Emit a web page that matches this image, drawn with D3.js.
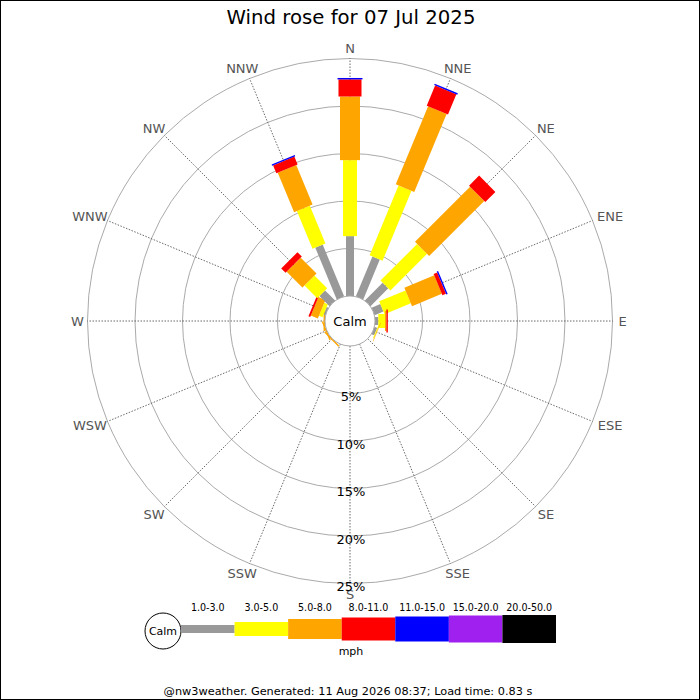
<!DOCTYPE html>
<html>
<head>
<meta charset="utf-8">
<script src="https://cdn.jsdelivr.net/npm/d3@7"></script>
<style>
  body { margin: 0; background: #fff; }
  svg { display: block; font-family: 'DejaVu Sans', sans-serif; }
  .legendLabel { font-family: 'DejaVu Sans Condensed', 'DejaVu Sans', sans-serif; font-stretch: condensed; }
</style>
</head>
<body>
<div id="wind-rose-chart"></div>
<script>
const directions = ['N', 'NNE', 'NE', 'ENE', 'E', 'ESE', 'SE', 'SSE',
  'S', 'SSW', 'SW', 'WSW', 'W', 'WNW', 'NW', 'NNW'];
const speedBands = ['1.0-3.0', '3.0-5.0', '5.0-8.0', '8.0-11.0', '11.0-15.0', '15.0-20.0', '20.0-50.0'];

// % of time per direction, one array per speed band
const speed1to3 = [6.3, 4.55, 2.65, 1.0, 0.35, 0.3, 0, 0, 0, 0, 0, 0, 0, 0.2, 1.5, 5.9];
const speed3to5 = [8.0, 7.95, 5.45, 3.0, 0.7, 0.1, 0, 0, 0, 0, 0, 0, 0, 0.4, 1.9, 4.3];
const speed5to8 = [6.7, 8.9, 8.2, 3.4, 0.15, 0.05, 0, 0, 0, 0, 0.15, 0.15, 0.15, 0.8, 2.35, 4.5];
const speed8to11 = [1.8, 2.3, 1.5, 0.4, 0.15, 0, 0, 0, 0, 0, 0, 0, 0, 0.2, 0.65, 0.9];
const speed11to15 = [0.15, 0.15, 0, 0.15, 0, 0, 0, 0, 0, 0, 0, 0, 0, 0, 0, 0.15];
const speed15to20 = [0, 0, 0, 0, 0, 0, 0, 0, 0, 0, 0, 0, 0, 0, 0, 0];
const speed20to50 = [0, 0, 0, 0, 0, 0, 0, 0, 0, 0, 0, 0, 0, 0, 0, 0];
const percentTicks = [5, 10, 15, 20, 25];

const bandSeries = [speed1to3, speed3to5, speed5to8, speed8to11, speed11to15, speed15to20, speed20to50];
const bandColors = ['#999999', '#ffff00', '#ffa500', '#ff0000', '#0000ff', '#a020f0', '#000000'];
const bandWidths = [8, 14, 20, 23, 25, 27, 28];

const width = 700;
const height = 700;
const cx = 350;
const cy = 321;
const calmRadius = 25;
const outerRadius = 262.5;

const svg = d3.select('#wind-rose-chart').append('svg')
  .attr('width', width)
  .attr('height', height);

svg.append('rect')
  .attr('x', 0.5).attr('y', 0.5)
  .attr('width', width - 1).attr('height', height - 1)
  .style('fill', '#fff')
  .style('stroke', '#000');

svg.append('text')
  .attr('x', 351)
  .attr('y', 24)
  .style('text-anchor', 'middle')
  .style('font-size', '19.7px')
  .text('Wind rose for 07 Jul 2025');

const rScale = d3.scaleLinear()
  .domain([0, 25])
  .range([calmRadius, outerRadius]);

const angleScale = d3.scaleLinear()
  .domain([0, directions.length])
  .range([0, 360]);

const rose = svg.append('g')
  .attr('transform', `translate(${cx},${cy})`);

// grid circles
rose.selectAll('.gridCircle')
  .data(percentTicks)
  .enter()
  .append('circle')
  .attr('class', 'gridCircle')
  .attr('r', (d) => rScale(d))
  .style('fill', 'none')
  .style('stroke', '#aaa')
  .style('stroke-width', 1);

// direction axes
const rad = (i) => angleScale(i) * Math.PI / 180;

rose.selectAll('.dirAxis')
  .data(directions)
  .enter()
  .append('line')
  .attr('class', 'dirAxis')
  .attr('x1', (d, i) => Math.sin(rad(i)) * calmRadius)
  .attr('y1', (d, i) => -Math.cos(rad(i)) * calmRadius)
  .attr('x2', (d, i) => Math.sin(rad(i)) * outerRadius)
  .attr('y2', (d, i) => -Math.cos(rad(i)) * outerRadius)
  .style('stroke', '#444')
  .style('stroke-width', 0.8)
  .style('stroke-dasharray', '1.5,1.5');

// compass labels
rose.selectAll('.dirLabel')
  .data(directions)
  .enter()
  .append('text')
  .attr('class', 'dirLabel')
  .attr('x', (d, i) => Math.sin(rad(i)) * 268 + Math.sin(rad(i)) * d.length * 4.5)
  .attr('y', (d, i) => -Math.cos(rad(i)) * 268 - Math.cos(rad(i)) * 5)
  .attr('dy', '0.36em')
  .style('text-anchor', 'middle')
  .style('font-size', '13px')
  .style('fill', '#555')
  .text((d) => d);

// stacked bars
const barGroup = rose.append('g').attr('class', 'barGroup');

directions.forEach((dir, i) => {
  let cum = 0;
  const g = barGroup.append('g')
    .attr('transform', `rotate(${angleScale(i)})`);
  bandSeries.forEach((series, b) => {
    const v = series[i];
    if (v > 0) {
      const r0 = rScale(cum);
      const r1 = rScale(cum + v);
      g.append('rect')
        .attr('x', -bandWidths[b] / 2)
        .attr('y', -r1)
        .attr('width', bandWidths[b])
        .attr('height', r1 - r0)
        .style('fill', bandColors[b]);
    }
    cum += v;
  });
});

// calm circle
rose.append('circle')
  .attr('r', calmRadius)
  .style('fill', '#fff')
  .style('stroke', '#aaa');

rose.append('text')
  .attr('y', 0)
  .attr('dy', '0.36em')
  .style('text-anchor', 'middle')
  .style('font-size', '13px')
  .text('Calm');

// percentage labels
rose.selectAll('.pctLabel')
  .data(percentTicks)
  .enter()
  .append('text')
  .attr('class', 'pctLabel')
  .attr('x', 1)
  .attr('y', (d) => rScale(d) + 3)
  .attr('dy', '0.36em')
  .style('text-anchor', 'middle')
  .style('font-size', '13px')
  .text((d) => d + '%');

// legend
const legendX = d3.scaleBand()
  .domain(speedBands)
  .range([181, 556]);

const legend = svg.append('g')
  .attr('class', 'legend')
  .attr('transform', 'translate(0,629)');

legend.append('circle')
  .attr('cx', 163)
  .attr('cy', 2)
  .attr('r', 18)
  .style('fill', '#fff')
  .style('stroke', '#000');

legend.append('text')
  .attr('x', 163)
  .attr('y', 2)
  .attr('dy', '0.36em')
  .style('text-anchor', 'middle')
  .style('font-size', '11px')
  .text('Calm');

legend.selectAll('.legendBand')
  .data(speedBands)
  .enter()
  .append('rect')
  .attr('class', 'legendBand')
  .attr('x', (d) => legendX(d))
  .attr('y', (d, i) => -bandWidths[i] / 2)
  .attr('width', legendX.bandwidth())
  .attr('height', (d, i) => bandWidths[i])
  .style('fill', (d, i) => bandColors[i]);

legend.selectAll('.legendLabel')
  .data(speedBands)
  .enter()
  .append('text')
  .attr('class', 'legendLabel')
  .attr('x', (d) => legendX(d) + legendX.bandwidth() / 2)
  .attr('y', -18.5)
  .style('text-anchor', 'middle')
  .style('font-size', '10.6px')
  .text((d) => d);

legend.append('text')
  .attr('x', 351)
  .attr('y', 26)
  .style('text-anchor', 'middle')
  .style('font-size', '11px')
  .text('mph');

svg.append('text')
  .attr('x', 348)
  .attr('y', 695)
  .style('text-anchor', 'middle')
  .style('font-size', '11.3px')
  .text('@nw3weather. Generated: 11 Aug 2026 08:37; Load time: 0.83 s');
</script>
</body>
</html>
